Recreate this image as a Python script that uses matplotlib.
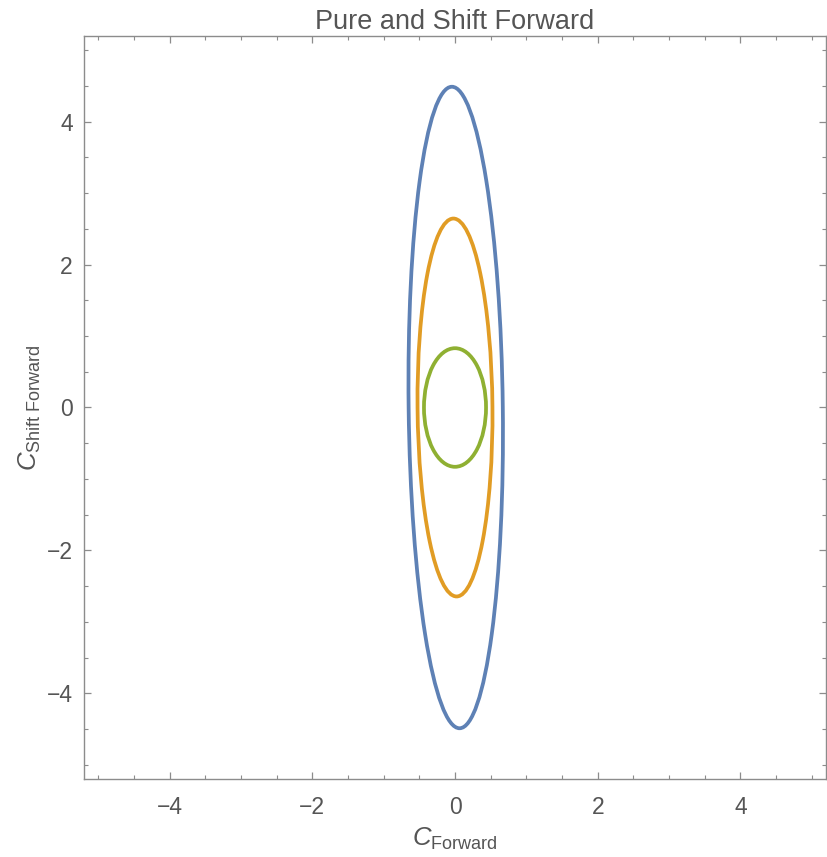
import numpy as np
import matplotlib.pyplot as plt
from matplotlib import rcParams
from matplotlib.patches import Ellipse
from matplotlib.ticker import MultipleLocator

rcParams['font.family'] = 'Liberation Sans'
rcParams['mathtext.fontset'] = 'custom'
rcParams['mathtext.rm'] = 'Liberation Sans'
rcParams['mathtext.it'] = 'Liberation Sans:italic'

# contour ellipses: centre, semi-axes and tilt (degrees, counter-clockwise)
center_x = [0.01, 0.0, 0.0]
center_y = [0.0, 0.0, 0.0]
semi_x = [0.66, 0.525, 0.435]
semi_y = [4.49, 2.645, 0.83]
tilt = [0.7, 0.5, 0.0]
colors = ['#5E81B5', '#E19C24', '#8FB032']

xlim = (-5.2, 5.2)
ylim = (-5.2, 5.2)
major_ticks = [-4, -2, 0, 2, 4]

text_col = '#555555'
frame_col = '#8c8c8c'

fig = plt.figure(figsize=(8.27, 8.57), dpi=100)
ax = fig.add_axes([84/827, 78/857, 742/827, 743/857])

for cx, cy, a, b, t, c in zip(center_x, center_y, semi_x, semi_y, tilt, colors):
    ax.add_patch(Ellipse((cx, cy), 2*a, 2*b, angle=t, fill=False,
                         edgecolor=c, linewidth=2.7))

ax.set_xlim(*xlim)
ax.set_ylim(*ylim)
ax.set_xticks(major_ticks)
ax.set_yticks(major_ticks)
ax.xaxis.set_minor_locator(MultipleLocator(0.5))
ax.yaxis.set_minor_locator(MultipleLocator(0.5))
ax.set_xticklabels([str(v).replace('-', '\u2212') for v in major_ticks])
ax.set_yticklabels([str(v).replace('-', '\u2212') for v in major_ticks])

for s in ax.spines.values():
    s.set_color(frame_col)
    s.set_linewidth(1.0)
ax.tick_params(which='both', direction='in', top=True, right=True,
               color=frame_col, labelcolor=text_col, labelsize=16.5)
ax.tick_params(which='major', length=5, width=0.9)
ax.tick_params(which='minor', length=3, width=0.8)
ax.tick_params(axis='x', pad=12)
ax.tick_params(axis='y', pad=8)

ax.set_title('Pure and Shift Forward', color=text_col, fontsize=19.5, pad=5)
ax.set_xlabel(r'$\mathit{C}_{\mathrm{Forward}}$', color=text_col, fontsize=18.5, labelpad=5)
ax.set_ylabel(r'$\mathit{C}_{\mathrm{Shift\ Forward}}$', color=text_col, fontsize=18.5, labelpad=3)

plt.savefig('out.png', dpi=100)
